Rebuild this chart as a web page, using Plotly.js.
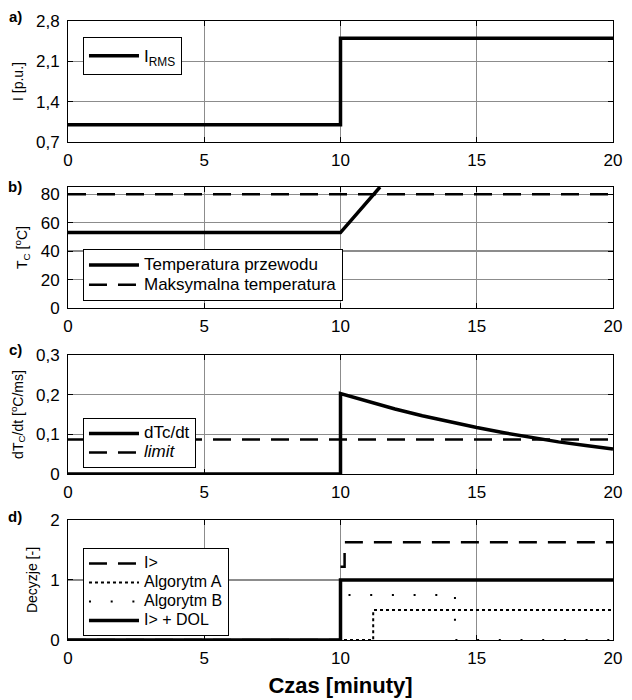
<!DOCTYPE html>
<html><head><meta charset="utf-8">
<script src="https://cdn.plot.ly/plotly-3.0.1.min.js"></script>
<style>html,body{margin:0;padding:0;background:#fff}#chart{width:632px;height:700px}</style>
</head><body><div id="chart"></div>
<script>
// ---- shared time axis
const timeTicks = [0, 5, 10, 15, 20];

// ---- a) current
const irmsX = [0, 10, 10, 20];
const irmsY = [1.0, 1.0, 2.5, 2.5];
const aTickVals = [0.7, 1.4, 2.1, 2.8];
const aTickText = ['0,7', '1,4', '2,1', '2,8'];

// ---- b) temperature
const tempX = [0, 10, 11.45];
const tempY = [53, 53, 85];
const maxTempX = [0, 20];
const maxTempY = [80, 80];
const bTickVals = [0, 20, 40, 60, 80];

// ---- c) temperature derivative
const dtX = [0, 10, 10, 11, 12, 13, 14, 15, 16, 17, 18, 19, 20];
const dtY = [0, 0, 0.203, 0.183, 0.164, 0.147, 0.131, 0.117, 0.104, 0.092, 0.081, 0.072, 0.063];
const limitX = [0, 20];
const limitY = [0.087, 0.087];
const cTickVals = [0, 0.1, 0.2, 0.3];
const cTickText = ['0', '0,1', '0,2', '0,3'];

// ---- d) decisions
const iOverX = [0, 10, null, 10, 10.15, 10.15, 20];
const iOverY = [0, 0, null, 1.22, 1.22, 1.63, 1.63];
const algAX = [0, 10, 11.2, 11.2, 20];
const algAY = [0, 0, 0, 0.5, 0.5];
const algBX = [0, 10, 10, 14.2, 14.2, 20];
const algBY = [0, 0, 0.75, 0.75, 0, 0];
const dolX = [0, 10, 10, 20];
const dolY = [0, 0, 1, 1];
const dTickVals = [0, 1, 2];

const FONT = 'Arial, "Liberation Sans", sans-serif';
const LBL = (t, s) => '<span style="font-size:' + s + 'px">' + t + '</span>';
const DASH = '18px,11px';

const traces = [
  {x: irmsX, y: irmsY, xaxis: 'x', yaxis: 'y', mode: 'lines', name: 'I<sub>RMS</sub>',
   line: {color: '#000', width: 3.5}, legend: 'legend', cliponaxis: false},

  {x: tempX, y: tempY, xaxis: 'x2', yaxis: 'y2', mode: 'lines', name: LBL('Temperatura przewodu', 17),
   line: {color: '#000', width: 3.5}, legend: 'legend2'},
  {x: maxTempX, y: maxTempY, xaxis: 'x2', yaxis: 'y2', mode: 'lines', name: LBL('Maksymalna temperatura', 17),
   line: {color: '#000', width: 2.5, dash: DASH}, legend: 'legend2'},

  {x: dtX, y: dtY, xaxis: 'x3', yaxis: 'y3', mode: 'lines', name: LBL('dTc/dt', 17),
   line: {color: '#000', width: 3.5}, legend: 'legend3', cliponaxis: false},
  {x: limitX, y: limitY, xaxis: 'x3', yaxis: 'y3', mode: 'lines', name: LBL('<i>limit</i>', 17),
   line: {color: '#000', width: 2.5, dash: DASH}, legend: 'legend3'},

  {x: iOverX, y: iOverY, xaxis: 'x4', yaxis: 'y4', mode: 'lines', name: LBL('I&gt;', 16),
   line: {color: '#000', width: 2.5, dash: DASH}, legend: 'legend4', connectgaps: false, cliponaxis: false},
  {x: algAX, y: algAY, xaxis: 'x4', yaxis: 'y4', mode: 'lines', name: LBL('Algorytm A', 16),
   line: {color: '#000', width: 2, dash: '3px,3px'}, legend: 'legend4', cliponaxis: false},
  {x: algBX, y: algBY, xaxis: 'x4', yaxis: 'y4', mode: 'lines', name: LBL('Algorytm B', 16),
   line: {color: '#000', width: 2, dash: '2px,19.7px'}, legend: 'legend4', cliponaxis: false},
  {x: dolX, y: dolY, xaxis: 'x4', yaxis: 'y4', mode: 'lines', name: LBL('I&gt; + DOL', 16),
   line: {color: '#000', width: 3.5}, legend: 'legend4', cliponaxis: false}
];

function xAx(anchor, extra) {
  return Object.assign({
    domain: [0, 1], anchor: anchor, range: [0, 20], tickvals: timeTicks,
    ticks: 'inside', ticklen: 5, tickwidth: 1, tickcolor: '#000',
    showline: true, linecolor: '#000', linewidth: 1, mirror: 'ticks',
    showgrid: true, gridcolor: '#8c8c8c', gridwidth: 1.2, zeroline: false,
    tickfont: {size: 17, color: '#000', family: FONT}, ticklabelstandoff: 3
  }, extra || {});
}
function yAx(anchor, domain, range, vals, text, title) {
  const ax = {
    domain: domain, anchor: anchor, range: range, tickvals: vals,
    ticks: 'inside', ticklen: 5, tickwidth: 1, tickcolor: '#000',
    showline: true, linecolor: '#000', linewidth: 1, mirror: 'ticks',
    showgrid: true, gridcolor: '#8c8c8c', gridwidth: 1.2, zeroline: false,
    tickfont: {size: 17, color: '#000', family: FONT}, ticklabelstandoff: 4,
    title: {text: title, font: {size: 14, color: '#000', family: FONT}, standoff: 9}
  };
  if (text) ax.ticktext = text;
  return ax;
}
function leg(y, fs) {
  return {x: 0.0275, y: y, xanchor: 'left', yanchor: 'top', bgcolor: '#fff',
    bordercolor: '#000', borderwidth: 1, font: {size: fs, color: '#000', family: FONT},
    itemwidth: 50, tracegroupgap: 0, traceorder: 'normal'};
}

const layout = {
  width: 632, height: 700,
  margin: {l: 68, r: 19, t: 21, b: 60},
  paper_bgcolor: '#fff', plot_bgcolor: '#fff',
  font: {family: FONT, color: '#000'},
  showlegend: true,
  xaxis: xAx('y'),
  xaxis2: xAx('y2'),
  xaxis3: xAx('y3'),
  xaxis4: xAx('y4', {title: {text: 'Czas [minuty]', font: {size: 22, weight: 'bold', color: '#000', family: FONT}, standoff: 10}}),
  yaxis: yAx('x', [0.8045, 1.0], [0.7, 2.8], aTickVals, aTickText, 'I [p.u.]'),
  yaxis2: yAx('x2', [0.5363, 0.7318], [0, 85], bTickVals, null, 'T<sub>C</sub> [<sup>o</sup>C]'),
  yaxis3: yAx('x3', [0.2682, 0.4604], [0, 0.3], cTickVals, cTickText, 'dT<sub>C</sub>/dt [<sup>o</sup>C/ms]'),
  yaxis4: yAx('x4', [0, 0.1939], [0, 2], dTickVals, null, 'Decyzje [-]'),
  legend: leg(0.974, 17),
  legend2: leg(0.6317, 13),
  legend3: leg(0.3586, 11),
  legend4: leg(0.1486, 12),
  annotations: [
    {text: '<b>a)</b>', xref: 'paper', yref: 'paper', x: -0.097, y: 1.0065, showarrow: false, xanchor: 'center', yanchor: 'middle', font: {size: 15, family: FONT, color: '#000'}},
    {text: '<b>b)</b>', xref: 'paper', yref: 'paper', x: -0.097, y: 0.7334, showarrow: false, xanchor: 'center', yanchor: 'middle', font: {size: 15, family: FONT, color: '#000'}},
    {text: '<b>c)</b>', xref: 'paper', yref: 'paper', x: -0.097, y: 0.4685, showarrow: false, xanchor: 'center', yanchor: 'middle', font: {size: 15, family: FONT, color: '#000'}},
    {text: '<b>d)</b>', xref: 'paper', yref: 'paper', x: -0.097, y: 0.2003, showarrow: false, xanchor: 'center', yanchor: 'middle', font: {size: 15, family: FONT, color: '#000'}}
  ]
};

Plotly.newPlot('chart', traces, layout, {displayModeBar: false, staticPlot: true});
</script>
</body></html>
